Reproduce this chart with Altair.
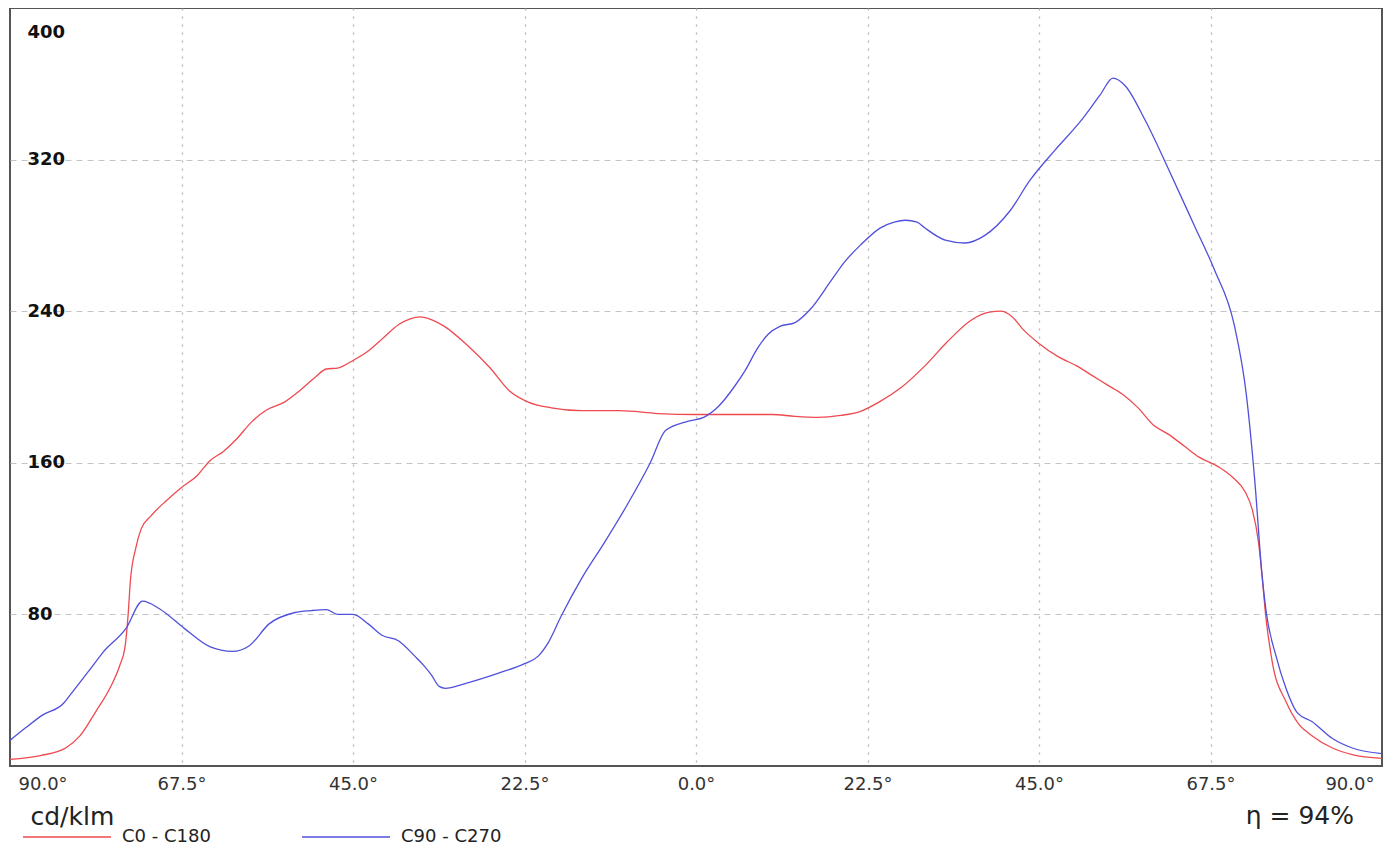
import altair as alt
import pandas as pd

# C0 - C180 curve (angle in degrees, intensity in cd/klm)
red_deg = [-90, -86, -82.7, -80.8, -78.7, -76.9, -75.6, -74.9, -74.5, -74.2, -73.5, -72.8, -71.5, -69.5,
           -67.5, -65.5, -63.8, -62, -60.4, -58.2, -56.3, -54, -52, -50, -48.5, -47, -45, -43, -41, -39,
           -37.5, -36.2, -35, -33, -30, -27, -24.5, -22, -19, -15, -10, -5, 0, 5, 10, 13, 16, 19, 21.5,
           24, 27, 30, 33, 36, 38.5, 40, 41.5, 43, 45, 47.5, 50, 52, 54, 56, 58, 60, 62, 64, 66, 68.5,
           70.5, 72, 73, 73.8, 74.3, 74.7, 75.6, 77.4, 79.1, 80.8, 83.5, 86.1, 90]
red_val = [3.5, 5.5, 9.5, 16, 29, 41, 53, 63, 80, 98, 115, 125, 132, 140,
           147, 153, 161, 166, 172, 182, 188, 192, 198, 205, 209.5, 210, 214, 219, 226, 233,
           236, 237, 236, 232, 222, 210, 198, 192, 189, 187.5, 187.5, 186, 185.5, 185.5, 185.5, 184.5, 184, 185, 187,
           192, 200, 211, 224, 235, 239.5, 240, 237, 230, 223, 216, 211, 206, 201, 196, 189, 180, 175, 169, 163, 158,
           152, 145, 135, 118, 99, 81, 55, 34, 22, 16, 9.5, 6, 4]

# C90 - C270 curve
blue_deg = [-90, -88, -85.7, -83, -82.2, -79.5, -77.8, -74.8, -72.6, -70.4, -67.1, -63.8, -60.8, -58.6,
            -56, -52.6, -50.5, -48.5, -47, -45, -43, -41.2, -39, -36.9, -35.7, -34.7, -33.7, -32.9, -30.3,
            -25.9, -22.5, -20.7, -19.4, -17.7, -15, -12, -9, -6, -4, -1, 1, 3, 5, 6.5, 8, 9.5, 11, 13, 15,
            17.7, 19.5, 21.6, 24.2, 26, 27.5, 29, 30, 32.7, 35.3, 37.9, 41.2, 43.8, 47.1, 50.4, 53, 54.7,
            56.3, 58.9, 62.1, 65.4, 68, 70.6, 72.2, 73.3, 74.3, 74.8, 76.1, 77.4, 78.9, 80.8, 83.5, 86.1, 90]
blue_val = [13.5, 20, 27, 33, 37, 51, 60, 72.5, 87, 83, 72.5, 63, 60.5, 63.5,
            75, 81, 82, 82.5, 80, 80, 75, 69, 66, 58, 53, 48, 42, 41, 43.5,
            49, 54, 58, 65, 79, 99, 118, 138, 160, 177, 182, 184, 190, 200, 209, 220, 228, 232, 234, 241,
            256, 266, 275, 284, 287, 288, 287, 284, 277.5, 276, 280, 293, 309, 325, 340, 354, 363,
            359, 341, 314, 285, 262, 233, 196, 151, 99, 81.5, 58, 41, 28, 23.5, 14.5, 9.5, 6.5]

series_names = ["C0 - C180", "C90 - C270"]
series_colors = ["#ee4a50", "#5050dc"]
x_ticks = [-90, -67.5, -45, -22.5, 0, 22.5, 45, 67.5, 90]
y_ticks = [0, 80, 160, 240, 320, 400]
unit_label = "cd/klm"
eta_label = "η = 94%"

W, H = 1372, 758

df = pd.concat([
    pd.DataFrame({"angle": red_deg, "value": red_val, "series": series_names[0]}),
    pd.DataFrame({"angle": blue_deg, "value": blue_val, "series": series_names[1]}),
], ignore_index=True)

lines = alt.Chart(df).mark_line(strokeWidth=1.3, interpolate="monotone", clip=True).encode(
    x=alt.X("angle:Q",
            scale=alt.Scale(domain=[-90, 90], nice=False, zero=False),
            axis=alt.Axis(values=x_ticks,
                          labelExpr="format(abs(datum.value), '.1f') + '°'",
                          ticks=False, tickSize=0, domain=False,
                          grid=True, gridDash=[2, 6], gridColor="#b4b4b4", gridWidth=1.3,
                          gridOpacity={"condition": {"test": "abs(datum.value) == 90", "value": 0}, "value": 1},
                          labelFont="DejaVu Sans", labelFontSize=18, labelColor="#333333",
                          labelPadding=9, labelFlush=True, labelFlushOffset=-8,
                          title=unit_label, titleAnchor="start", titleAlign="left",
                          titleX=20, titleY=58, titleBaseline="alphabetic",
                          titleFont="DejaVu Sans", titleFontSize=25, titleFontWeight="normal",
                          titleColor="#222222")),
    y=alt.Y("value:Q",
            scale=alt.Scale(domain=[0, 400], nice=False),
            axis=alt.Axis(values=y_ticks,
                          labelExpr="datum.value == 0 ? '' : datum.label",
                          ticks=False, tickSize=0, domain=False,
                          grid=True, gridDash=[6, 5], gridColor="#c4c4c4", gridWidth=1.2,
                          gridOpacity={"condition": {"test": "datum.value == 0 || datum.value == 400", "value": 0}, "value": 1},
                          labelAlign="left", labelPadding=-17,
                          labelFont="DejaVu Sans", labelFontSize=18, labelFontWeight="bold",
                          labelColor="#111111",
                          labelOffset={"condition": {"test": "datum.value == 400", "value": 24}, "value": 0},
                          title=None)),
    color=alt.Color("series:N",
                    scale=alt.Scale(domain=series_names, range=series_colors),
                    legend=alt.Legend(orient="none", legendX=12, legendY=H + 63,
                                      direction="horizontal", title=None,
                                      symbolType="stroke", symbolSize=7744, symbolStrokeWidth=1.5,
                                      clipHeight=16, labelOffset=10, columnPadding=90,
                                      labelFont="DejaVu Sans", labelFontSize=18, labelColor="#222222",
                                      padding=0)),
)

eta = alt.Chart(pd.DataFrame({"t": [eta_label]})).mark_text(
    align="right", baseline="alphabetic", font="DejaVu Sans", fontSize=25, color="#222222"
).encode(text="t:N", x=alt.value(W - 28), y=alt.value(H + 58))

chart = alt.layer(lines, eta).properties(
    width=W, height=H,
    background="white",
    padding={"left": 2, "top": 0, "right": 2, "bottom": 0},
).configure_view(stroke="#555555", strokeWidth=2)

chart.save("out.html", embed_options={"renderer": "svg", "actions": False})
